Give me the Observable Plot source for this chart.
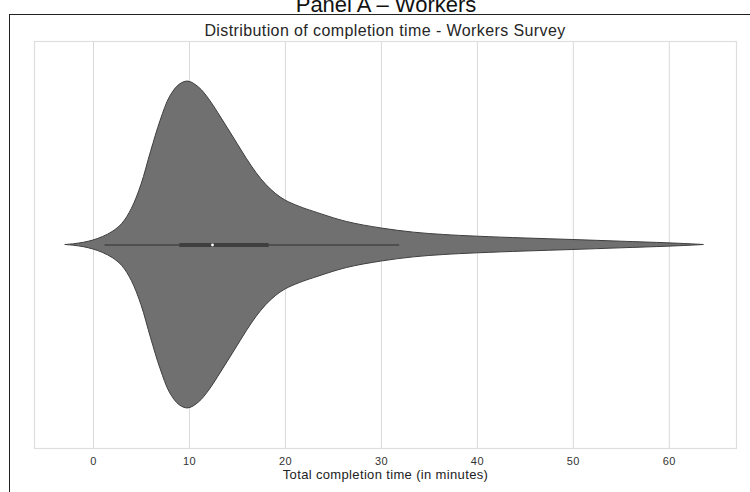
<!DOCTYPE html>
<html>
<head>
<meta charset="utf-8">
<script src="https://cdn.jsdelivr.net/npm/d3@7"></script>
<script src="https://cdn.jsdelivr.net/npm/@observablehq/plot@0.6"></script>
<style>
  html, body { margin: 0; padding: 0; background: #fff; overflow: hidden; }
  body { width: 750px; height: 492px; position: relative; font-family: "Liberation Sans", Arial, sans-serif; }
  #panel { position: absolute; left: 9px; top: 14px; width: 800px; height: 600px; border-left: 1.5px solid #222; border-top: 1.5px solid #222; box-sizing: border-box; }
  #ptitle { position: absolute; left: 0; width: 772px; top: -8px; text-align: center; font-size: 22px; line-height: 25px; color: #111; white-space: nowrap; }
  #subtitle { position: absolute; left: 0; width: 770px; top: 22px; text-align: center; font-size: 16px; line-height: 18px; letter-spacing: 0.4px; color: #262626; white-space: nowrap; }
  #chart { position: absolute; left: 0; top: 0; }
</style>
</head>
<body>
<div id="panel"></div>
<div id="chart"></div>
<div id="ptitle">Panel A – Workers</div>
<div id="subtitle">Distribution of completion time - Workers Survey</div>
<script>
// KDE profile: time (minutes) and half-width density
const times = [-2.9, -2.0, -1.0, 0.0, 1.0, 2.0, 3.0, 4.0, 5.0, 6.0, 7.0, 8.0, 9.0, 9.9, 11.0, 12.0, 13.0, 14.0, 15.0, 16.0, 17.0, 18.0, 19.0, 20.0, 21.5, 23.0, 26.4, 30.0, 33.4, 36.5, 40.0, 45.0, 49.9, 55.0, 59.8, 62.0, 63.6];
const density = [0, 0.0004, 0.0011, 0.00225, 0.0040, 0.0065, 0.0105, 0.0180, 0.0300, 0.0465, 0.0620, 0.0740, 0.0800, 0.0815, 0.0785, 0.0730, 0.0658, 0.0582, 0.0505, 0.0428, 0.0358, 0.0300, 0.0255, 0.0222, 0.0190, 0.0165, 0.0115, 0.00825, 0.00615, 0.0050, 0.00415, 0.00325, 0.0025, 0.00165, 0.00085, 0.0004, 0];
// Box-plot summary
const whisker = [1.2, 31.9];
const quartiles = [9.0, 18.3];
const median = [12.4];
const xTicks = [0, 10, 20, 30, 40, 50, 60];

const violin = times.map((t, i) => ({t, d: density[i]}));

const chart = Plot.plot({
  width: 750,
  height: 492,
  marginLeft: 34,
  marginRight: 14,
  marginTop: 41,
  marginBottom: 44,
  style: {fontFamily: "Liberation Sans, Arial, sans-serif", fontSize: "11px", color: "#333", background: "transparent"},
  x: {domain: [-6.146, 67.0], ticks: xTicks, tickSize: 0, tickPadding: 9,
      label: "Total completion time (in minutes)", labelAnchor: "center", labelArrow: "none", labelOffset: 30},
  y: {domain: [-0.1015, 0.1015], axis: null},
  marks: [
    Plot.gridX(xTicks, {stroke: "#d9d9d9", strokeOpacity: 1, strokeWidth: 1}),
    Plot.frame({stroke: "#dedede", strokeWidth: 1.2}),
    Plot.areaY(violin, {x: "t", y1: d => -d.d, y2: d => d.d, fill: "#707070", stroke: "#3e3e3e", strokeWidth: 1, curve: "catmull-rom"}),
    Plot.ruleY([0], {x1: whisker[0], x2: whisker[1], stroke: "#444", strokeWidth: 1.3}),
    Plot.ruleY([0], {x1: quartiles[0], x2: quartiles[1], stroke: "#3f3f3f", strokeWidth: 4}),
    Plot.dot(median, {x: d => d, y: 0, r: 1.4, fill: "white", stroke: "none"})
  ]
});
document.getElementById("chart").appendChild(chart);
// axis label styling
chart.querySelectorAll("[aria-label='x-axis label'] text").forEach(t => { t.style.fontSize = "13px"; t.style.letterSpacing = "0.35px"; t.setAttribute("fill", "#222"); });
chart.querySelectorAll("[aria-label='x-axis tick label'] text").forEach(t => { t.style.fontSize = "11px"; t.style.letterSpacing = "0.4px"; });
</script>
</body>
</html>
